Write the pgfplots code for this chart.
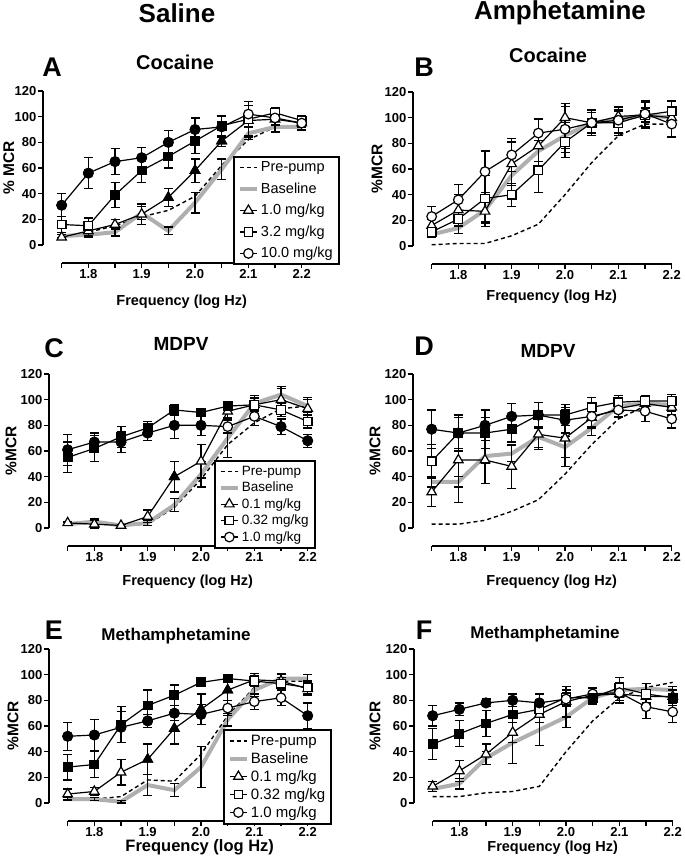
\documentclass[border=0pt]{standalone}
\usepackage{pgfplots}
\pgfplotsset{compat=1.18}
\usepackage{fontspec}
\setmainfont{Liberation Sans}
\definecolor{bgray}{RGB}{175,175,175}
\pgfplotsset{
 panel/.style={scale only axis, width=258.7pt, height=172pt, xmin=1.715,xmax=2.2,ymin=-14,ymax=120,
  axis lines=left, axis line style={draw=none,-}, clip=false,
  xtick={1.8,1.9,2.0,2.1,2.2}, xticklabels={1.8,1.9,2.0,2.1,2.2},
  minor xtick={1.75,1.85,1.95,2.05,2.15}, ytick={0,20,...,120},
  tick align=outside, major tick length=5pt, minor tick length=5pt,
  tick style={black,line width=1.3pt},
  tick label style={font=\fontsize{13}{13}\selectfont\bfseries},
  xticklabel style={inner sep=1.5pt},
  yticklabel style={inner sep=1.5pt},
  /pgf/number format/assume math mode=true,
  every axis x label/.style={at={(axis cs:1.975,-14)},anchor=base,yshift=-40pt,font=\fontsize{14.5}{15}\selectfont\bfseries},
  every axis y label/.style={at={(axis description cs:-0.147,0.552)},rotate=90,anchor=center,inner sep=0pt,font=\fontsize{15.5}{15.5}\selectfont\bfseries},
  xlabel={Frequency (log Hz)},
  legend cell align=left,
  legend style={draw=black,line width=2pt,fill=white,inner xsep=4pt,inner ysep=3pt,row sep=5.5pt,font=\fontsize{14.5}{14.5}\selectfont,anchor=north west},
 },
 ylx/.style={every axis y label/.append style={at={(axis description cs:#1,0.552)}}},
 pre/.style={black,dash pattern=on 4pt off 3pt,line width=1.4pt,no markers},
 base/.style={bgray,line width=4pt,no markers, error bars/y dir=both, error bars/y explicit,
   error bars/error bar style={black,line width=1.2pt}, error bars/error mark options={black,rotate=90,mark size=4.5pt,line width=1.2pt}},
 ser/.style={black,line width=1.2pt,mark options={solid,fill=white,line width=1.2pt},
   error bars/y dir=both, error bars/y explicit, error bars/error bar style={line width=1.2pt},
   error bars/error mark options={rotate=90,mark size=4.5pt,line width=1.2pt}},
 tri/.style={ser,mark=triangle*,mark size=5.5pt},
 sq/.style={ser,mark=square*,mark size=4.3pt},
 cir/.style={ser,mark=*,mark size=4.8pt},
 fil/.style={black,only marks,forget plot,mark options={solid,fill=black,line width=1.2pt}},
 ftri/.style={fil,mark=triangle*,mark size=5.5pt},
 fsq/.style={fil,mark=square*,mark size=4.3pt},
 fcir/.style={fil,mark=*,mark size=4.8pt},
}
\newcommand{\axlines}{\draw[line width=1.3pt] (axis cs:1.715,0)--(axis cs:1.715,120);
 \draw[line width=1.3pt] (axis cs:1.75,-14)--(axis cs:2.2,-14);}
\begin{document}
\begin{tikzpicture}[x=1pt,y=1pt]
\useasboundingbox (0,0) rectangle (685,863);
\node[font=\fontsize{26}{26}\selectfont\bfseries] at (177,850) {Saline};
\node[font=\fontsize{26}{26}\selectfont\bfseries] at (560,850) {Amphetamine};
\node[font=\fontsize{27}{27}\selectfont\bfseries] at (52,796) {A};
\node[font=\fontsize{27}{27}\selectfont\bfseries] at (424,796) {B};
\node[font=\fontsize{27}{27}\selectfont\bfseries] at (54,515) {C};
\node[font=\fontsize{27}{27}\selectfont\bfseries] at (424,517) {D};
\node[font=\fontsize{27}{27}\selectfont\bfseries] at (54,233) {E};
\node[font=\fontsize{27}{27}\selectfont\bfseries] at (424,233) {F};
\node[font=\fontsize{20}{20}\selectfont\bfseries] at (175,801) {Cocaine};
\node[font=\fontsize{20}{20}\selectfont\bfseries] at (548,808) {Cocaine};
\node[font=\fontsize{19}{19}\selectfont\bfseries] at (181,519) {MDPV};
\node[font=\fontsize{19}{19}\selectfont\bfseries] at (548,512) {MDPV};
\node[font=\fontsize{17}{17}\selectfont\bfseries] at (176,227) {Methamphetamine};
\node[font=\fontsize{17}{17}\selectfont\bfseries] at (545,229) {Methamphetamine};

% ---------- A ----------
\begin{axis}[panel, at={(43pt,600pt)}, anchor=south west, ylabel={\% MCR}, ylx=-0.132,
  every axis x label/.append style={yshift=-3pt},
  legend style={at={(axis cs:2.071,69.4)}}]
\axlines
\addplot[pre] coordinates {(1.75,7)(1.8,10)(1.85,15)(1.9,22)(1.95,27)(2.0,38)(2.05,62)(2.1,82)(2.15,92)(2.2,93)};
\addlegendentry{Pre-pump}
\addplot[base] coordinates {(1.75,7)+-(0,1)(1.8,8)+-(0,2)(1.85,10)+-(0,3)(1.9,25)+-(0,5)(1.95,11)+-(0,3)(2.0,33)+-(0,8)(2.05,59)+-(0,8)(2.1,87)+-(0,5)(2.15,92)+-(0,4)(2.2,92)+-(0,3)};
\addlegendentry{Baseline}
\addplot[tri] coordinates {(1.75,6)+-(0,2)(1.8,11)+-(0,4)(1.85,16)+-(0,4)(1.9,24)+-(0,8)(1.95,37)+-(0,7)(2.0,58)+-(0,9)(2.05,81)+-(0,4)(2.1,97)+-(0,12)(2.15,98)+-(0,5)(2.2,95)+-(0,3)};
\addlegendentry{1.0 mg/kg}
\addplot[sq] coordinates {(1.75,16)+-(0,6)(1.8,15)+-(0,6)(1.85,39)+-(0,10)(1.9,58)+-(0,9)(1.95,69)+-(0,9)(2.0,81)+-(0,10)(2.05,93)+-(0,8)(2.1,98)+-(0,14)(2.15,103)+-(0,4)(2.2,97)+-(0,4)};
\addlegendentry{3.2 mg/kg}
\addplot[cir] coordinates {(1.75,31)+-(0,9)(1.8,56)+-(0,12)(1.85,65)+-(0,10)(1.9,68)+-(0,8)(1.95,80)+-(0,9)(2.0,90)+-(0,9)(2.05,92)+-(0,8)(2.1,102)+-(0,7)(2.15,99)+-(0,5)(2.2,95)+-(0,5)};
\addlegendentry{10.0 mg/kg}
\addplot[ftri] coordinates {(1.95,37)(2.0,58)(2.05,81)};
\addplot[fsq] coordinates {(1.85,39)(1.9,58)(1.95,69)(2.0,81)(2.05,93)};
\addplot[fcir] coordinates {(1.75,31)(1.8,56)(1.85,65)(1.9,68)(1.95,80)(2.0,90)};
\end{axis}

% ---------- B ----------
\begin{axis}[panel, at={(413pt,599pt)}, anchor=south west, ylabel={\%MCR}, ylx=-0.139,
  every axis x label/.append style={yshift=3pt}]
\axlines
\addplot[pre] coordinates {(1.75,1)(1.8,2)(1.85,2)(1.9,8)(1.95,17)(2.0,40)(2.05,65)(2.1,86)(2.15,95)(2.2,95)};
\addplot[base] coordinates {(1.75,9)+-(0,2)(1.8,14)+-(0,4)(1.85,28)+-(0,10)(1.9,55)+-(0,8)(1.95,74)+-(0,8)(2.0,86)+-(0,10)(2.05,96)+-(0,8)(2.1,99)+-(0,6)(2.15,102)+-(0,5)(2.2,100)+-(0,5)};
\addplot[tri] coordinates {(1.75,16)+-(0,5)(1.8,28)+-(0,12)(1.85,27)+-(0,12)(1.9,64)+-(0,17)(1.95,78)+-(0,12)(2.0,100)+-(0,11)(2.05,96)+-(0,10)(2.1,101)+-(0,8)(2.15,102)+-(0,6)(2.2,100)+-(0,6)};
\addplot[sq] coordinates {(1.75,11)+-(0,3)(1.8,21)+-(0,6)(1.85,37)+-(0,18)(1.9,40)+-(0,9)(1.95,59)+-(0,17)(2.0,81)+-(0,12)(2.05,96)+-(0,10)(2.1,96)+-(0,10)(2.15,102)+-(0,10)(2.2,105)+-(0,8)};
\addplot[cir] coordinates {(1.75,23)+-(0,8)(1.8,36)+-(0,12)(1.85,58)+-(0,16)(1.9,71)+-(0,13)(1.95,88)+-(0,11)(2.0,91)+-(0,18)(2.05,96)+-(0,10)(2.1,98)+-(0,10)(2.15,103)+-(0,10)(2.2,95)+-(0,10)};
\end{axis}

% ---------- C ----------
\begin{axis}[panel, at={(49pt,317pt)}, anchor=south west, ylabel={\%MCR}, ylx=-0.147,
  legend style={at={(axis cs:2.024,53)},font=\fontsize{13.5}{13.5}\selectfont,row sep=1.2pt}]
\axlines
\addplot[pre] coordinates {(1.75,3)(1.8,4)(1.85,2)(1.9,3)(1.95,16)(2.0,38)(2.05,65)(2.1,82)(2.15,93)(2.2,95)};
\addlegendentry{Pre-pump}
\addplot[base] coordinates {(1.75,3)+-(0,1)(1.8,5)+-(0,2)(1.85,2)+-(0,1)(1.9,4)+-(0,2)(1.95,18)+-(0,5)(2.0,42)+-(0,10)(2.05,70)+-(0,15)(2.1,97)+-(0,5)(2.15,104)+-(0,5)(2.2,95)+-(0,5)};
\addlegendentry{Baseline}
\addplot[tri] coordinates {(1.75,4)+-(0,1)(1.8,3)+-(0,3)(1.85,2)+-(0,1)(1.9,9)+-(0,5)(1.95,40)+-(0,12)(2.0,52)+-(0,13)(2.05,91)+-(0,5)(2.1,96)+-(0,7)(2.15,100)+-(0,10)(2.2,93)+-(0,9)};
\addlegendentry{0.1 mg/kg}
\addplot[sq] coordinates {(1.75,55)+-(0,12)(1.8,62)+-(0,10)(1.85,71)+-(0,8)(1.9,78)+-(0,5)(1.95,92)+-(0,4)(2.0,90)+-(0,3)(2.05,95)+-(0,3)(2.1,96)+-(0,5)(2.15,92)+-(0,5)(2.2,83)+-(0,5)};
\addlegendentry{0.32 mg/kg}
\addplot[cir] coordinates {(1.75,61)+-(0,12)(1.8,67)+-(0,7)(1.85,67)+-(0,8)(1.9,74)+-(0,6)(1.95,80)+-(0,10)(2.0,80)+-(0,8)(2.05,79)+-(0,5)(2.1,87)+-(0,7)(2.15,79)+-(0,6)(2.2,68)+-(0,5)};
\addlegendentry{1.0 mg/kg}
\addplot[ftri] coordinates {(1.95,40)};
\addplot[fsq] coordinates {(1.75,55)(1.8,62)(1.85,71)(1.9,78)(1.95,92)(2.0,90)(2.05,95)};
\addplot[fcir] coordinates {(1.75,61)(1.8,67)(1.85,67)(1.9,74)(1.95,80)(2.0,80)(2.15,79)(2.2,68)};
\end{axis}

% ---------- D ----------
\begin{axis}[panel, at={(413pt,317pt)}, anchor=south west, ylabel={\%MCR}, ylx=-0.147]
\axlines
\addplot[pre] coordinates {(1.75,3)(1.8,3)(1.85,6)(1.9,13)(1.95,22)(2.0,42)(2.05,65)(2.1,85)(2.15,95)(2.2,97)};
\addplot[base] coordinates {(1.75,36)+-(0,4)(1.8,36)+-(0,4)(1.85,56)+-(0,6)(1.9,58)+-(0,6)(1.95,71)+-(0,8)(2.0,63)+-(0,8)(2.05,78)+-(0,6)(2.1,95)+-(0,5)(2.15,97)+-(0,5)(2.2,96)+-(0,5)};
\addplot[tri] coordinates {(1.75,28)+-(0,11)(1.8,53)+-(0,33)(1.85,53)+-(0,18)(1.9,48)+-(0,17)(1.95,73)+-(0,12)(2.0,70)+-(0,22)(2.05,86)+-(0,8)(2.1,93)+-(0,6)(2.15,97)+-(0,6)(2.2,94)+-(0,6)};
\addplot[sq] coordinates {(1.75,52)+-(0,13)(1.8,74)+-(0,12)(1.85,74)+-(0,12)(1.9,77)+-(0,10)(1.95,88)+-(0,10)(2.0,88)+-(0,8)(2.05,94)+-(0,8)(2.1,98)+-(0,5)(2.15,99)+-(0,4)(2.2,99)+-(0,5)};
\addplot[cir] coordinates {(1.75,77)+-(0,15)(1.8,74)+-(0,14)(1.85,80)+-(0,12)(1.9,87)+-(0,10)(1.95,88)+-(0,10)(2.0,84)+-(0,10)(2.05,87)+-(0,8)(2.1,92)+-(0,6)(2.15,91)+-(0,8)(2.2,85)+-(0,7)};
\addplot[fsq] coordinates {(1.8,74)(1.85,74)(1.9,77)(1.95,88)(2.0,88)};
\addplot[fcir] coordinates {(1.75,77)(1.8,74)(1.85,80)(1.9,87)(1.95,88)(2.0,84)};
\end{axis}

% ---------- E ----------
\begin{axis}[panel, at={(49pt,42pt)}, anchor=south west, ylabel={\%MCR}, ylx=-0.139,
  every axis x label/.append style={font=\fontsize{16.5}{17}\selectfont\bfseries,yshift=9.5pt,xshift=12pt},
  legend style={at={(axis cs:2.041,57.7)},font=\fontsize{15}{15}\selectfont,row sep=1.6pt}]
\axlines
\addplot[pre] coordinates {(1.75,3)(1.8,3)(1.85,5)(1.9,18)(1.95,17)(2.0,38)(2.05,68)(2.1,90)(2.15,95)(2.2,95)};
\addlegendentry{Pre-pump}
\addplot[base] coordinates {(1.75,3)+-(0,1)(1.8,3)+-(0,1)(1.85,1)+-(0,1)(1.9,14)+-(0,8)(1.95,10)+-(0,5)(2.0,28)+-(0,16)(2.05,65)+-(0,5)(2.1,88)+-(0,5)(2.15,97)+-(0,4)(2.2,97)+-(0,3)};
\addlegendentry{Baseline}
\addplot[tri] coordinates {(1.75,7)+-(0,4)(1.8,9)+-(0,3)(1.85,24)+-(0,10)(1.9,34)+-(0,12)(1.95,58)+-(0,12)(2.0,73)+-(0,12)(2.05,88)+-(0,8)(2.1,96)+-(0,5)(2.15,95)+-(0,5)(2.2,89)+-(0,5)};
\addlegendentry{0.1 mg/kg}
\addplot[sq] coordinates {(1.75,28)+-(0,10)(1.8,30)+-(0,10)(1.85,61)+-(0,14)(1.9,76)+-(0,12)(1.95,84)+-(0,8)(2.0,94)+-(0,3)(2.05,97)+-(0,3)(2.1,95)+-(0,4)(2.15,93)+-(0,5)(2.2,90)+-(0,5)};
\addlegendentry{0.32 mg/kg}
\addplot[cir] coordinates {(1.75,52)+-(0,11)(1.8,53)+-(0,12)(1.85,59)+-(0,12)(1.9,64)+-(0,5)(1.95,70)+-(0,6)(2.0,69)+-(0,8)(2.05,74)+-(0,6)(2.1,79)+-(0,6)(2.15,82)+-(0,6)(2.2,68)+-(0,10)};
\addlegendentry{1.0 mg/kg}
\addplot[ftri] coordinates {(1.9,34)(1.95,58)(2.0,73)(2.05,88)};
\addplot[fsq] coordinates {(1.75,28)(1.8,30)(1.85,61)(1.9,76)(1.95,84)(2.0,94)(2.05,97)};
\addplot[fcir] coordinates {(1.75,52)(1.8,53)(1.85,59)(1.9,64)(1.95,70)(2.0,69)(2.2,68)};
\end{axis}

% ---------- F ----------
\begin{axis}[panel, at={(414pt,42pt)}, anchor=south west, ylabel={\%MCR}, ylx=-0.151,
  every axis x label/.append style={font=\fontsize{14.5}{15}\selectfont\bfseries,yshift=10pt}]
\axlines
\addplot[pre] coordinates {(1.75,5)(1.8,5)(1.85,8)(1.9,9)(1.95,13)(2.0,40)(2.05,64)(2.1,82)(2.15,90)(2.2,94)};
\addplot[base] coordinates {(1.75,11)+-(0,2)(1.8,15)+-(0,4)(1.85,35)+-(0,5)(1.9,47)+-(0,16)(1.95,57)+-(0,12)(2.0,67)+-(0,8)(2.05,82)+-(0,4)(2.1,88)+-(0,4)(2.15,89)+-(0,4)(2.2,88)+-(0,3)};
\addplot[tri] coordinates {(1.75,13)+-(0,4)(1.8,25)+-(0,8)(1.85,38)+-(0,8)(1.9,55)+-(0,8)(1.95,69)+-(0,6)(2.0,79)+-(0,12)(2.05,84)+-(0,5)(2.1,85)+-(0,5)(2.15,83)+-(0,5)(2.2,83)+-(0,5)};
\addplot[sq] coordinates {(1.75,46)+-(0,12)(1.8,54)+-(0,10)(1.85,62)+-(0,10)(1.9,69)+-(0,6)(1.95,73)+-(0,6)(2.0,82)+-(0,6)(2.05,82)+-(0,5)(2.1,90)+-(0,8)(2.15,85)+-(0,8)(2.2,82)+-(0,6)};
\addplot[cir] coordinates {(1.75,68)+-(0,8)(1.8,73)+-(0,5)(1.85,78)+-(0,3)(1.9,80)+-(0,5)(1.95,78)+-(0,7)(2.0,81)+-(0,5)(2.05,85)+-(0,5)(2.1,86)+-(0,8)(2.15,75)+-(0,9)(2.2,71)+-(0,8)};
\addplot[fsq] coordinates {(1.75,46)(1.8,54)(1.85,62)(1.9,69)(2.05,82)(2.2,82)};
\addplot[fcir] coordinates {(1.75,68)(1.8,73)(1.85,78)(1.9,80)(1.95,78)};
\end{axis}
\end{tikzpicture}
\end{document}
